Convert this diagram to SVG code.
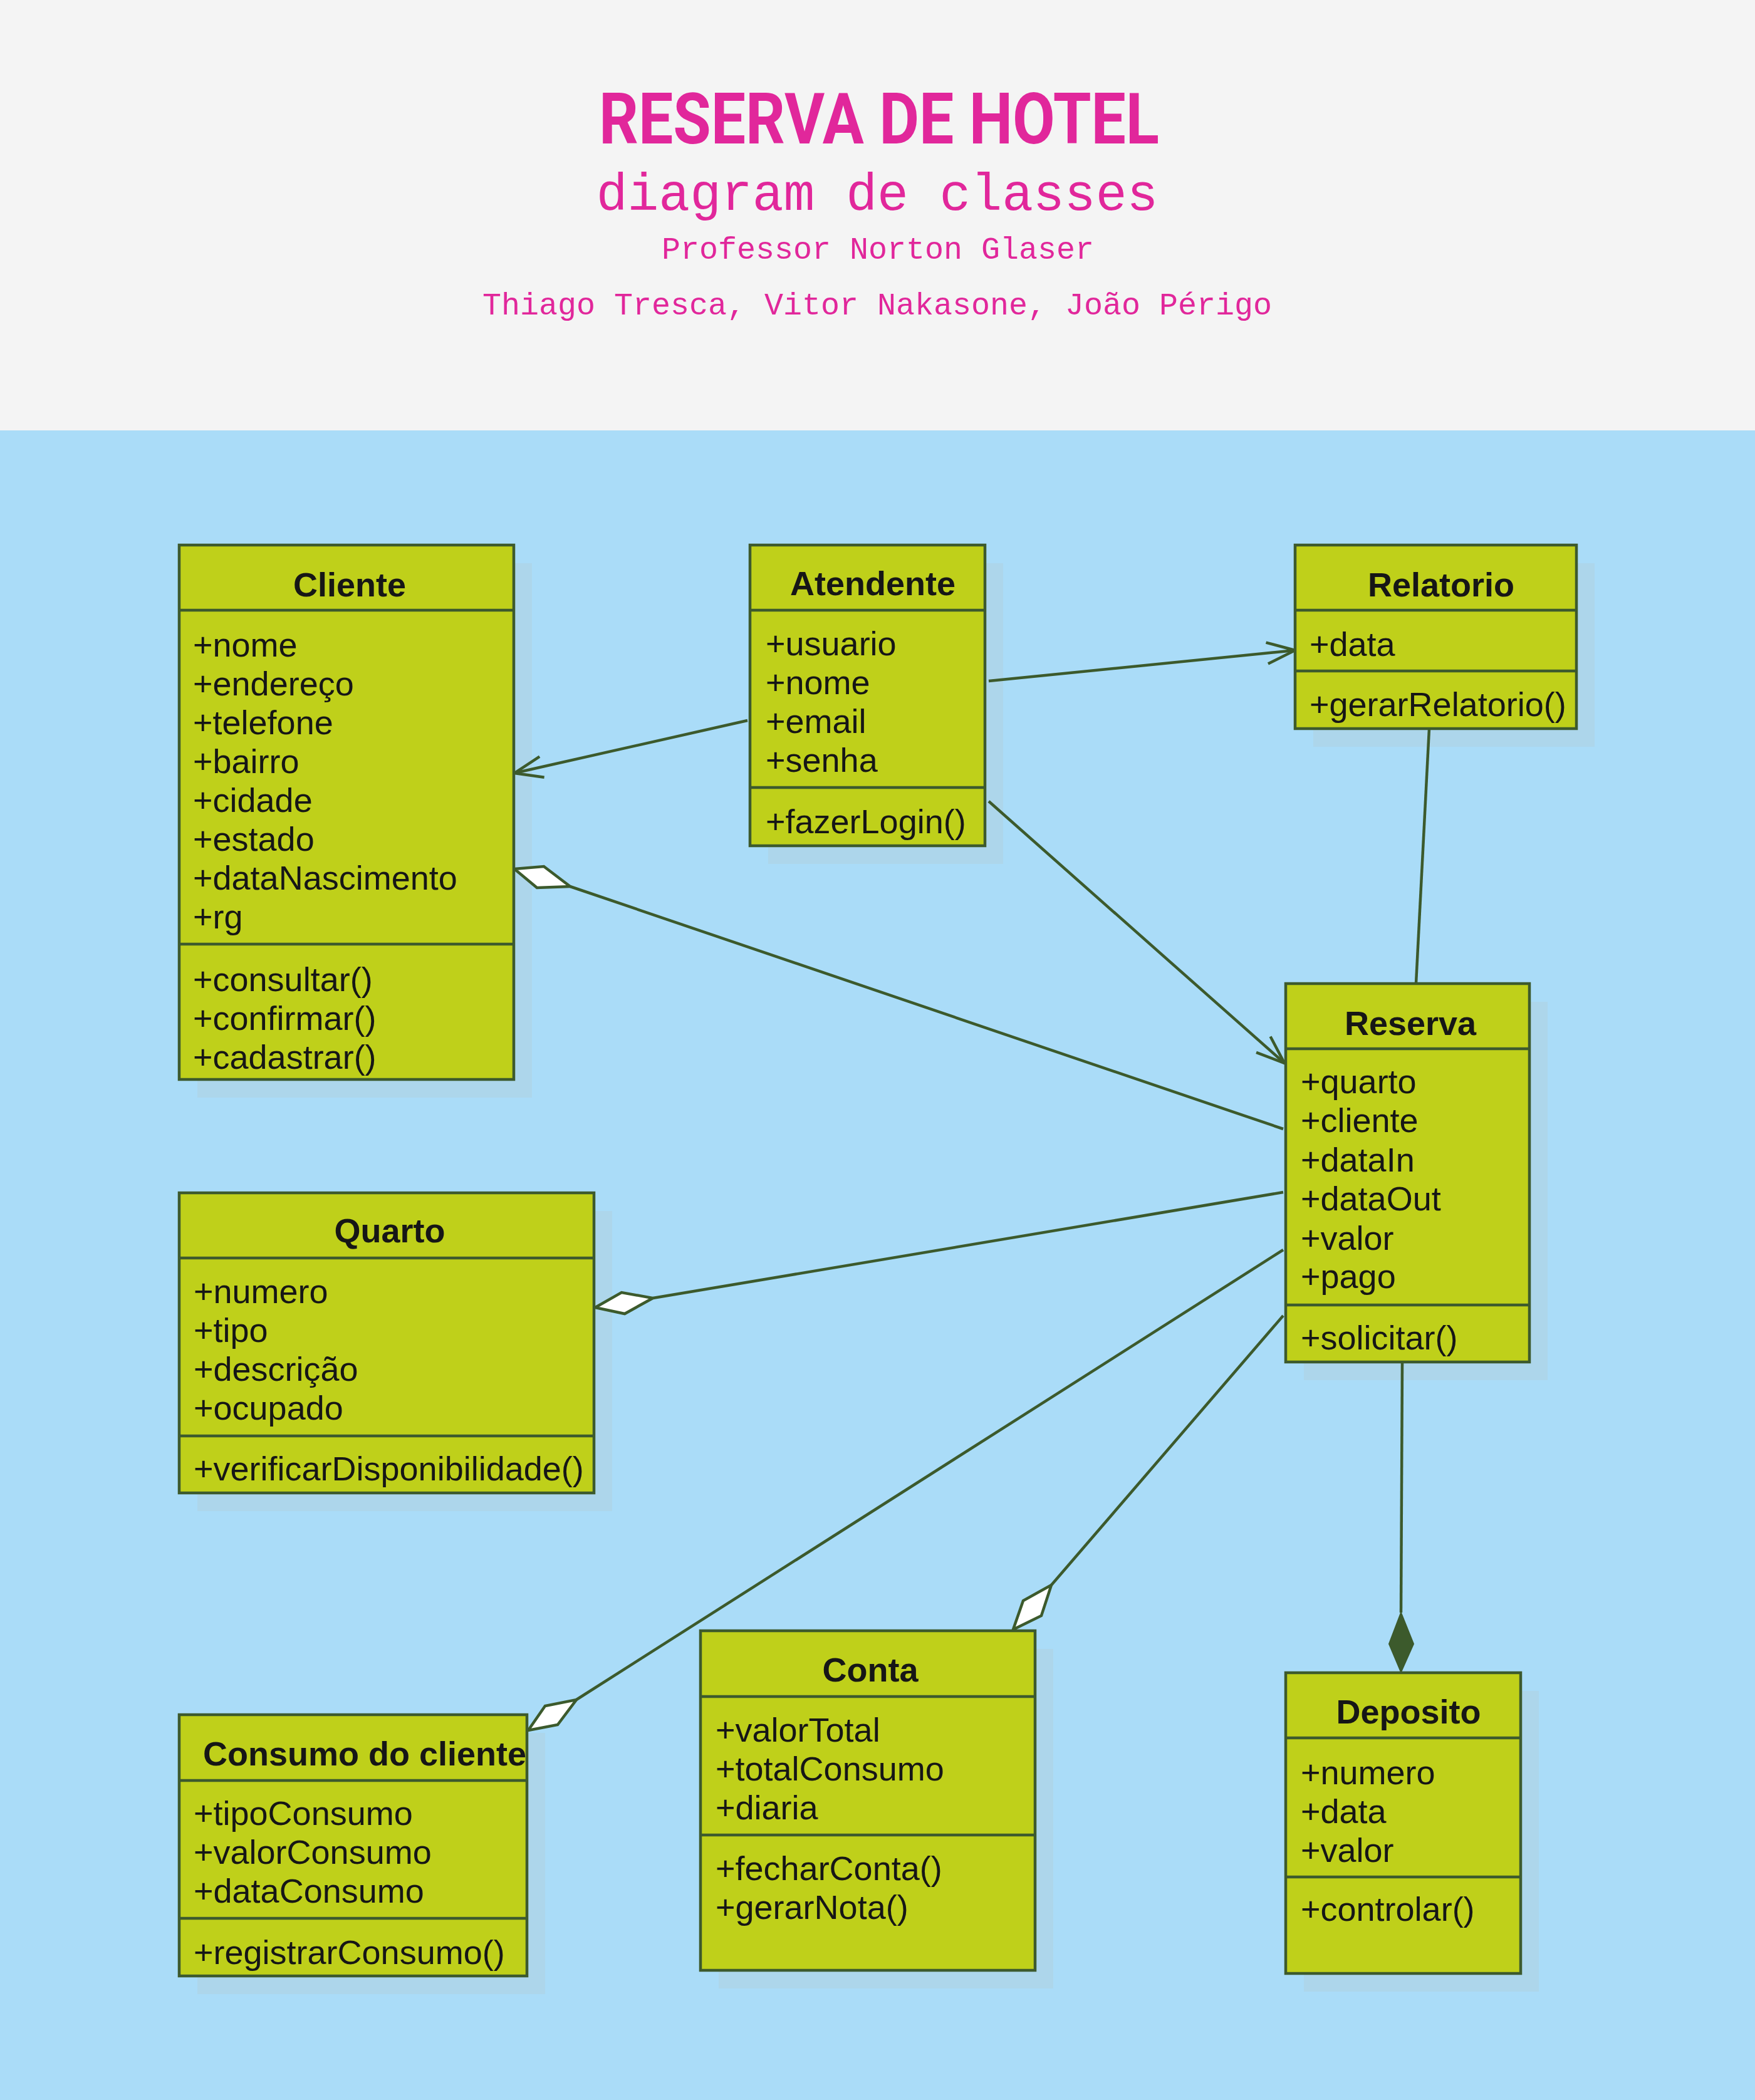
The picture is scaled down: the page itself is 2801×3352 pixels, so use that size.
<svg xmlns="http://www.w3.org/2000/svg" width="2801" height="3352" viewBox="0 0 2801 3352">
<style>
.box{fill:#bfd01a;stroke:#3d5a2d;stroke-width:4.5}
.div{stroke:#3d5a2d;stroke-width:4.5}
.shadow{fill:#add6eb}
.t{font-family:"Liberation Sans",Arial,sans-serif;font-size:54px;fill:#161616}
.h{font-family:"Liberation Sans",Arial,sans-serif;font-size:54px;font-weight:bold;fill:#161616;text-anchor:middle}
.c{stroke:#3c5a2c;stroke-width:4.5;fill:none}
.od{fill:#ffffff;stroke:#3c5a2c;stroke-width:4.5;stroke-linejoin:miter}
.fd{fill:#3c5a2c;stroke:#3c5a2c;stroke-width:2}
.mono{font-family:"Liberation Mono","Courier New",monospace;fill:#e1279b;text-anchor:middle}
</style>
<defs>
<marker id="open" markerUnits="userSpaceOnUse" markerWidth="60" markerHeight="60" viewBox="-50 -25 60 50" refX="0" refY="0" orient="auto">
<path d="M-45,-17 L0,0 L-45,17" fill="none" stroke="#3c5a2c" stroke-width="4.5"/>
</marker>
</defs>
<rect x="0" y="0" width="2801" height="687" fill="#f4f4f4"/>
<rect x="0" y="687" width="2801" height="2665" fill="#aadcf8"/>
<g id="header">
<text x="956" y="229" font-family="Roboto,'Liberation Sans',sans-serif" font-weight="bold" font-size="114" fill="#e1279b" textLength="894" lengthAdjust="spacingAndGlyphs">RESERVA DE HOTEL</text>
<text class="mono" x="1400" y="335" font-size="83">diagram de classes</text>
<text class="mono" x="1401" y="413" font-size="50">Professor Norton Glaser</text>
<text class="mono" x="1400" y="502" font-size="50">Thiago Tresca, Vitor Nakasone, João Périgo</text>
</g>
<g id="shadows">
<rect class="shadow" x="315" y="899" width="534" height="853"/>
<rect class="shadow" x="1226" y="899" width="375" height="480"/>
<rect class="shadow" x="2096" y="899" width="449" height="293"/>
<rect class="shadow" x="2081" y="1599" width="389" height="604"/>
<rect class="shadow" x="315" y="1933" width="662" height="479"/>
<rect class="shadow" x="315" y="2766" width="555" height="417"/>
<rect class="shadow" x="1147" y="2632" width="534" height="542"/>
<rect class="shadow" x="2081" y="2699" width="375" height="480"/>
</g>
<g id="connectors">
<line class="c" x1="1193" y1="1150" x2="821" y2="1234" marker-end="url(#open)"/>
<line class="c" x1="1578" y1="1087" x2="2067" y2="1038" marker-end="url(#open)"/>
<line class="c" x1="1578" y1="1279" x2="2050" y2="1697" marker-end="url(#open)"/>
<line class="c" x1="2048" y1="1802" x2="910" y2="1415"/>
<polygon class="od" points="821,1387 868,1383 910,1415 857,1417"/>
<line class="c" x1="2048" y1="1903" x2="1042" y2="2072"/>
<polygon class="od" points="950,2087 992,2063 1042,2072 997,2097"/>
<line class="c" x1="2048" y1="1995" x2="920" y2="2713"/>
<polygon class="od" points="843,2762 870,2723 920,2713 890,2753"/>
<line class="c" x1="2048" y1="2100" x2="1678" y2="2530"/>
<polygon class="od" points="1617,2601 1633,2555 1678,2530 1662,2579"/>
<line class="c" x1="2281" y1="1163" x2="2260" y2="1570"/>
<line class="c" x1="2238" y1="2174" x2="2236" y2="2574"/>
<polygon class="fd" points="2236,2574 2256,2624 2236,2669 2217,2624"/>
</g>
<g id="cliente">
<rect class="box" x="286" y="870" width="534" height="853"/>
<line class="div" x1="286" y1="974" x2="820" y2="974"/>
<line class="div" x1="286" y1="1507" x2="820" y2="1507"/>
<text class="h" x="558" y="952">Cliente</text>
<text class="t" x="308" y="1048">+nome</text>
<text class="t" x="308" y="1110">+endereço</text>
<text class="t" x="308" y="1172">+telefone</text>
<text class="t" x="308" y="1234">+bairro</text>
<text class="t" x="308" y="1296">+cidade</text>
<text class="t" x="308" y="1358">+estado</text>
<text class="t" x="308" y="1420">+dataNascimento</text>
<text class="t" x="308" y="1482">+rg</text>
<text class="t" x="308" y="1582">+consultar()</text>
<text class="t" x="308" y="1644">+confirmar()</text>
<text class="t" x="308" y="1706">+cadastrar()</text>
</g>
<g id="atendente">
<rect class="box" x="1197" y="870" width="375" height="480"/>
<line class="div" x1="1197" y1="974" x2="1572" y2="974"/>
<line class="div" x1="1197" y1="1257" x2="1572" y2="1257"/>
<text class="h" x="1393" y="950">Atendente</text>
<text class="t" x="1222" y="1046">+usuario</text>
<text class="t" x="1222" y="1108">+nome</text>
<text class="t" x="1222" y="1170">+email</text>
<text class="t" x="1222" y="1232">+senha</text>
<text class="t" x="1222" y="1330">+fazerLogin()</text>
</g>
<g id="relatorio">
<rect class="box" x="2067" y="870" width="449" height="293"/>
<line class="div" x1="2067" y1="974" x2="2516" y2="974"/>
<line class="div" x1="2067" y1="1071" x2="2516" y2="1071"/>
<text class="h" x="2300" y="952">Relatorio</text>
<text class="t" x="2090" y="1047">+data</text>
<text class="t" x="2090" y="1143">+gerarRelatorio()</text>
</g>
<g id="reserva">
<rect class="box" x="2052" y="1570" width="389" height="604"/>
<line class="div" x1="2052" y1="1674" x2="2441" y2="1674"/>
<line class="div" x1="2052" y1="2083" x2="2441" y2="2083"/>
<text class="h" x="2251" y="1652">Reserva</text>
<text class="t" x="2076" y="1745">+quarto</text>
<text class="t" x="2076" y="1807">+cliente</text>
<text class="t" x="2076" y="1870">+dataIn</text>
<text class="t" x="2076" y="1932">+dataOut</text>
<text class="t" x="2076" y="1995">+valor</text>
<text class="t" x="2076" y="2056">+pago</text>
<text class="t" x="2076" y="2154">+solicitar()</text>
</g>
<g id="quarto">
<rect class="box" x="286" y="1904" width="662" height="479"/>
<line class="div" x1="286" y1="2008" x2="948" y2="2008"/>
<line class="div" x1="286" y1="2292" x2="948" y2="2292"/>
<text class="h" x="622" y="1983">Quarto</text>
<text class="t" x="309" y="2080">+numero</text>
<text class="t" x="309" y="2142">+tipo</text>
<text class="t" x="309" y="2204">+descrição</text>
<text class="t" x="309" y="2266">+ocupado</text>
<text class="t" x="309" y="2363">+verificarDisponibilidade()</text>
</g>
<g id="consumo">
<rect class="box" x="286" y="2737" width="555" height="417"/>
<line class="div" x1="286" y1="2842" x2="841" y2="2842"/>
<line class="div" x1="286" y1="3062" x2="841" y2="3062"/>
<text class="h" x="582" y="2818">Consumo do cliente</text>
<text class="t" x="309" y="2913">+tipoConsumo</text>
<text class="t" x="309" y="2975">+valorConsumo</text>
<text class="t" x="309" y="3037">+dataConsumo</text>
<text class="t" x="309" y="3135">+registrarConsumo()</text>
</g>
<g id="conta">
<rect class="box" x="1118" y="2603" width="534" height="542"/>
<line class="div" x1="1118" y1="2708" x2="1652" y2="2708"/>
<line class="div" x1="1118" y1="2929" x2="1652" y2="2929"/>
<text class="h" x="1389" y="2684">Conta</text>
<text class="t" x="1142" y="2780">+valorTotal</text>
<text class="t" x="1142" y="2842">+totalConsumo</text>
<text class="t" x="1142" y="2904">+diaria</text>
<text class="t" x="1142" y="3001">+fecharConta()</text>
<text class="t" x="1142" y="3063">+gerarNota()</text>
</g>
<g id="deposito">
<rect class="box" x="2052" y="2670" width="375" height="480"/>
<line class="div" x1="2052" y1="2774" x2="2427" y2="2774"/>
<line class="div" x1="2052" y1="2996" x2="2427" y2="2996"/>
<text class="h" x="2248" y="2751">Deposito</text>
<text class="t" x="2076" y="2848">+numero</text>
<text class="t" x="2076" y="2910">+data</text>
<text class="t" x="2076" y="2972">+valor</text>
<text class="t" x="2076" y="3066">+controlar()</text>
</g>
</svg>
